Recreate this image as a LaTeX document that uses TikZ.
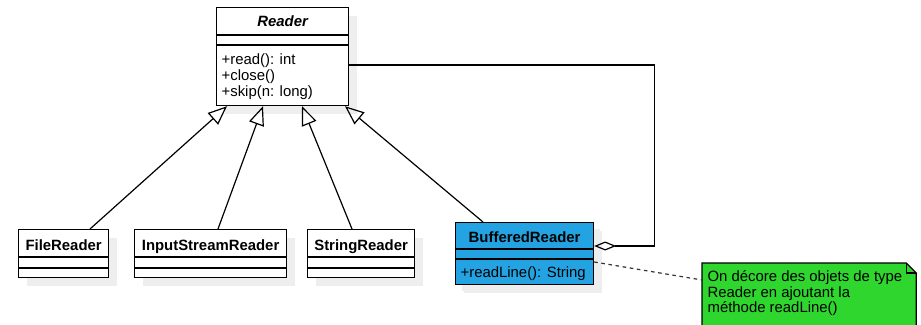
\documentclass[tikz,border=0pt]{standalone}
\usepackage{fontspec}
\setmainfont{Liberation Sans}
\usetikzlibrary{arrows.meta,shadows}
\definecolor{shadowgray}{RGB}{238,238,238}
\definecolor{bufblue}{RGB}{35,163,226}
\definecolor{notegreen}{RGB}{46,214,46}
\newcommand\umlfont{\fontsize{14.9}{16}\selectfont}
\begin{document}
\begin{tikzpicture}[x=1pt,y=-1pt,line width=1.2pt,font=\umlfont,
  classbox/.style={draw=black,fill=white,inner sep=0pt,anchor=north west,
    drop shadow={shadow xshift=8pt,shadow yshift=-8pt,fill=shadowgray,opacity=1}},
  classname/.style={anchor=base,inner sep=0pt,font=\umlfont\bfseries},
  member/.style={anchor=base west,inner sep=0pt},
  inherits/.style={-{Triangle[open,length=19pt,width=15.5pt]}},
  aggregates/.style={{Diamond[open,length=22pt,width=9pt]}-},
  notelink/.style={draw=black!80,dash pattern=on 3.6pt off 3.6pt}]
\useasboundingbox (0,0) rectangle (921,324);
\clip (0,0) rectangle (921,324);

% classes
\node[classbox,minimum width=132pt,minimum height=98pt] (reader) at (216,7) {};
\node[classbox,minimum width=90pt,minimum height=48pt] (file) at (18,229) {};
\node[classbox,minimum width=152pt,minimum height=48pt] (isr) at (134,229) {};
\node[classbox,minimum width=107pt,minimum height=48pt] (str) at (307,229) {};
\node[classbox,fill=bufblue,minimum width=138pt,minimum height=62pt,
  drop shadow={shadow xshift=6pt,shadow yshift=-6pt,fill=shadowgray,opacity=1}] (buf) at (455,222) {};

% compartment separators
\foreach \n/\a/\b in {reader/28/38,file/28/39,isr/28/39,str/28/39,buf/27/37}{
  \draw ([yshift=-\a pt]\n.north west) -- ([yshift=-\a pt]\n.north east);
  \draw ([yshift=-\b pt]\n.north west) -- ([yshift=-\b pt]\n.north east);
}

% names and members
\node[classname,font=\umlfont\bfseries\itshape] (readername) at ([yshift=-20pt]reader.north) {Reader};
\node[member] (m1) at ([xshift=5pt,yshift=-57pt]reader.north west) {+read(): int};
\node[member] (m2) at ([xshift=5pt,yshift=-73.5pt]reader.north west) {+close()};
\node[member] (m3) at ([xshift=5pt,yshift=-89.5pt]reader.north west) {+skip(n: long)};
\node[classname] (filename) at ([yshift=-21pt]file.north) {FileReader};
\node[classname] (isrname) at ([yshift=-21pt]isr.north) {InputStreamReader};
\node[classname] (strname) at ([yshift=-21pt]str.north) {StringReader};
\node[classname] (bufname) at ([yshift=-20pt]buf.north) {BufferedReader};
\node[member] (m4) at ([xshift=5pt,yshift=-55pt]buf.north west) {+readLine(): String};

% generalisations
\draw[inherits] ([xshift=72pt]file.north west) -- ([xshift=11pt]reader.south west);
\draw[inherits] ([xshift=84pt]isr.north west) -- ([xshift=47pt]reader.south west);
\draw[inherits] ([xshift=45pt]str.north west) -- ([xshift=86pt]reader.south west);
\draw[inherits] ([xshift=28pt]buf.north west) -- ([xshift=129pt]reader.south west);

% aggregation back to Reader
\draw[aggregates] ([yshift=-24pt]buf.north east) -| ([xshift=305pt,yshift=-58pt]reader.north east)
  -- ([yshift=-58pt]reader.north east);

% note
\node[inner sep=0pt,anchor=north west,minimum width=213pt,minimum height=70pt] (note) at (702,263) {};
\draw[fill=notegreen] (note.north west) -- ([xshift=-10pt]note.north east)
  -- ([yshift=-10pt]note.north east) -- (note.south east) -- (note.south west) -- cycle;
\draw ([xshift=-10pt]note.north east) -- ([xshift=-10pt,yshift=-10pt]note.north east)
  -- ([yshift=-10pt]note.north east);
\node[member] (n1) at ([xshift=5pt,yshift=-18pt]note.north west) {On décore des objets de type};
\node[member] (n2) at ([xshift=5pt,yshift=-34pt]note.north west) {Reader en ajoutant la};
\node[member] (n3) at ([xshift=5pt,yshift=-49.5pt]note.north west) {méthode readLine()};
\draw[notelink] ([yshift=-40pt]buf.north east) -- ([yshift=-17pt]note.north west);
\end{tikzpicture}
\end{document}
